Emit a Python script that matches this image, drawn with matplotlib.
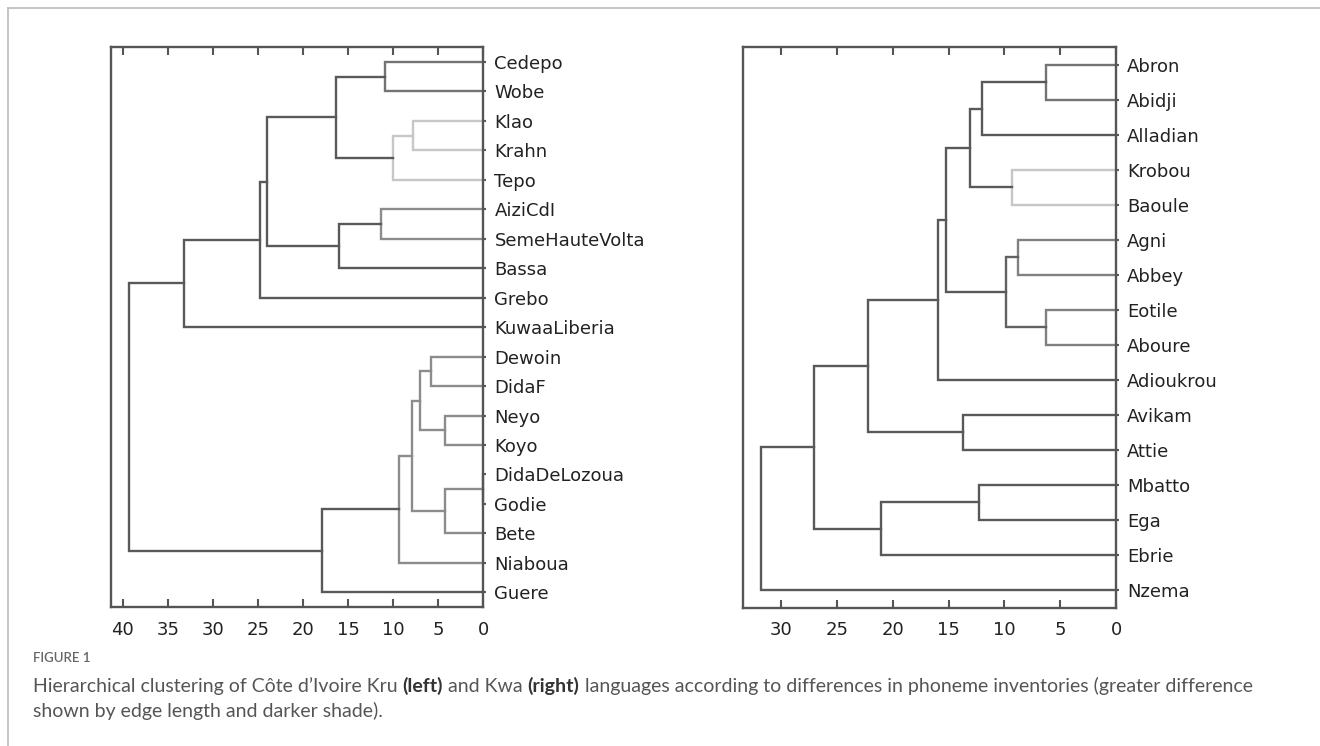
import matplotlib
matplotlib.use("Agg")
import matplotlib.pyplot as plt
from matplotlib.lines import Line2D

# Kru languages, top to bottom as they appear on the tree
kru_leaves = ["Cedepo", "Wobe", "Klao", "Krahn", "Tepo", "AiziCdI",
              "SemeHauteVolta", "Bassa", "Grebo", "KuwaaLiberia", "Dewoin",
              "DidaF", "Neyo", "Koyo", "DidaDeLozoua", "Godie", "Bete",
              "Niaboua", "Guere"]
# merges: (child a, child b); leaves are 0..n-1, merge k gets id n+k
kru_pairs = [(0, 1), (2, 3), (20, 4), (19, 21), (5, 6), (23, 7), (22, 24),
             (25, 8), (26, 9), (10, 11), (12, 13), (28, 29), (14, 15),
             (31, 16), (30, 32), (33, 17), (34, 18), (27, 35)]
kru_heights = [10.9, 7.8, 10.05, 16.3, 11.4, 16.0, 23.95, 24.8, 33.2,
               5.8, 4.3, 7.0, 0.0, 4.3, 7.9, 9.3, 17.9, 39.35]
kru_shade = [0.45, 0.78, 0.78, 0.35, 0.55, 0.35, 0.35, 0.35, 0.35,
             0.55, 0.55, 0.55, 0.55, 0.55, 0.55, 0.55, 0.35, 0.35]

# Kwa languages
kwa_leaves = ["Abron", "Abidji", "Alladian", "Krobou", "Baoule", "Agni",
              "Abbey", "Eotile", "Aboure", "Adioukrou", "Avikam", "Attie",
              "Mbatto", "Ega", "Ebrie", "Nzema"]
kwa_pairs = [(0, 1), (16, 2), (3, 4), (17, 18), (5, 6), (7, 8), (20, 21),
             (19, 22), (23, 9), (10, 11), (24, 25), (12, 13), (27, 14),
             (26, 28), (29, 15)]
kwa_heights = [6.25, 12.0, 9.3, 13.1, 8.8, 6.25, 9.85, 15.2, 16.0, 13.7,
               22.2, 12.3, 21.1, 27.1, 31.8]
kwa_shade = [0.45, 0.35, 0.78, 0.35, 0.5, 0.5, 0.38, 0.35, 0.35, 0.35,
             0.35, 0.35, 0.35, 0.35, 0.35]

SPINE = "#555555"


def dendro(ax, leaves, pairs, heights, shade, xmax):
    n = len(leaves)
    ys = [5 + 10 * i for i in range(n)]
    xs = [0.0] * n
    for (a, b), h, g in zip(pairs, heights, shade):
        c = str(g)
        ax.plot([xs[a], h, h, xs[b]], [ys[a], ys[a], ys[b], ys[b]],
                color=c, lw=1.7, solid_joinstyle="miter", clip_on=False)
        xs.append(h)
        ys.append((ys[a] + ys[b]) / 2)
    ax.set_xlim(xmax, 0)
    ax.set_ylim(10 * n, 0)
    ax.set_xticks(range(0, int(xmax) + 1, 5))
    ax.set_yticks([5 + 10 * i for i in range(n)])
    ax.set_yticklabels(leaves)
    ax.yaxis.tick_right()
    ax.tick_params(axis="y", length=2, width=1.5, pad=6, labelsize=13,
                   colors=SPINE, labelcolor="#222222")
    ax.tick_params(axis="x", direction="in", length=5.5, width=1.5,
                   top=True, pad=10, labelsize=13, colors=SPINE,
                   labelcolor="#222222")
    for s in ax.spines.values():
        s.set_color(SPINE)
        s.set_linewidth(1.7)


W, H = 1320, 746
fig = plt.figure(figsize=(W / 100, H / 100), dpi=100)


def fx(px):
    return px / W


def fy(py):
    return 1 - py / H


ax1 = fig.add_axes([fx(111), fy(607), fx(483.3 - 111), (607 - 47.3) / H])
ax2 = fig.add_axes([fx(743.3), fy(607.5), fx(1116.1 - 743.3), (607.5 - 47.3) / H])
dendro(ax1, kru_leaves, kru_pairs, kru_heights, kru_shade, 41.3)
dendro(ax2, kwa_leaves, kwa_pairs, kwa_heights, kwa_shade, 33.4)

# page frame on the left and top
fig.add_artist(Line2D([fx(7.5), fx(7.5)], [0, fy(8)], color="#bbbbbb", lw=1.2))
fig.add_artist(Line2D([fx(7.5), 1], [fy(8), fy(8)], color="#bbbbbb", lw=1.2))

# caption
cap_font = "Lato"
fig.text(fx(33), fy(661.5), "FIGURE 1", fontsize=9.5, family=cap_font,
         fontweight="semibold", color="#666666", va="baseline")

renderer = fig.canvas.get_renderer()


def text_width(s, **kw):
    t = fig.text(0, 0, s, **kw)
    w = t.get_window_extent(renderer).width
    t.remove()
    return w


def caption_line(px, py, runs, size=14):
    base = dict(fontsize=size, family=cap_font, va="baseline")
    space = text_width("a a", **base) - text_width("aa", **base)
    x = px
    for s, bold in runs:
        kw = dict(base)
        kw["fontweight"] = "bold" if bold else "normal"
        kw["color"] = "#333333" if bold else "#555555"
        t = fig.text(fx(x), fy(py), s, **kw)
        x += t.get_window_extent(renderer).width + space


caption_line(33, 692, [
    ("Hierarchical clustering of Côte d\u2019Ivoire Kru", False),
    ("(left)", True), ("and Kwa", False), ("(right)", True),
    ("languages according to differences in phoneme inventories (greater difference", False),
])
caption_line(33, 717, [("shown by edge length and darker shade).", False)])

fig.savefig("out.png", dpi=100)
